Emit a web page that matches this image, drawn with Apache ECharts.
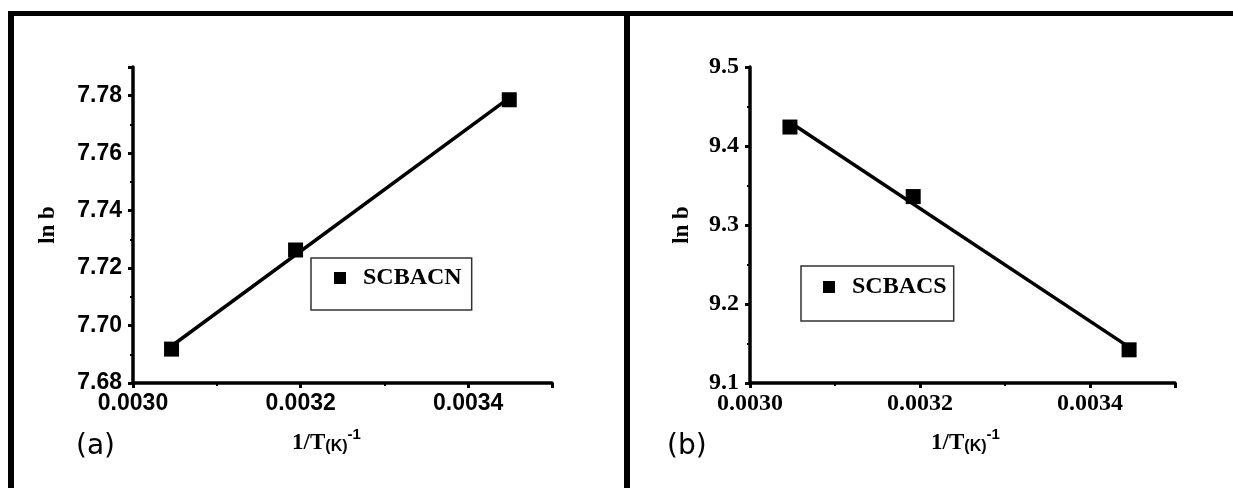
<!DOCTYPE html>
<html lang="en">
<head>
  <meta charset="UTF-8">
  <title>ln b vs 1/T</title>
  <style type="text/css">
    html, body {
      margin: 0;
      padding: 0;
      background: #fff;
    }
    #chart {
      width: 1233px;
      height: 488px;
    }
  </style>
</head>
<body>
  <div id="chart"></div>

  <script src="https://cdn.jsdelivr.net/npm/echarts@6/dist/echarts.min.js"></script>
  <script>
    // panel (a) SCBACN
    const invTA = [0.003046, 0.003194, 0.003449]
    const lnbA = [7.6918, 7.7263, 7.7786]
    // panel (b) SCBACS
    const invTB = [0.003047, 0.003192, 0.003446]
    const lnbB = [9.424, 9.336, 9.142]

    const nameA = 'SCBACN'
    const nameB = 'SCBACS'
    const panelLabels = ['(a)', '(b)']

    const xMin = 0.0030, xMax = 0.0035, xStep = 0.0002
    const yMinA = 7.68, yMaxA = 7.79, yStepA = 0.02
    const yMinB = 9.1, yMaxB = 9.5, yStepB = 0.1

    // least squares line through the points, drawn over the data range
    function fitLine (xs, ys) {
      const n = xs.length
      const mx = xs.reduce((a, b) => a + b, 0) / n
      const my = ys.reduce((a, b) => a + b, 0) / n
      let sxy = 0, sxx = 0
      xs.forEach((x, i) => {
        sxy += (x - mx) * (ys[i] - my)
        sxx += (x - mx) * (x - mx)
      })
      const k = sxy / sxx
      const x0 = Math.min(...xs), x1 = Math.max(...xs)
      return [[x0, my + k * (x0 - mx)], [x1, my + k * (x1 - mx)]]
    }

    const zip = (xs, ys) => xs.map((x, i) => [x, ys[i]])

    const serif = 'Liberation Serif, Times New Roman, serif'
    const sans = 'Liberation Sans, Arial, sans-serif'

    function xAxisFor (gridIndex, labelFont, nameOffset) {
      return {
        type: 'value',
        gridIndex,
        min: xMin,
        max: xMax,
        interval: xStep,
        splitLine: { show: false },
        axisLine: { lineStyle: { color: '#000', width: 3.5 } },
        axisTick: { length: 5, lineStyle: { color: '#000', width: 3 } },
        minorTick: { show: true, splitNumber: 2, length: 3, lineStyle: { color: '#000', width: 2 } },
        axisLabel: {
          showMaxLabel: false,
          margin: 9,
          color: '#000',
          fontFamily: labelFont,
          fontWeight: 'bold',
          fontSize: labelFont === sans ? 23 : 24,
          formatter: v => v.toFixed(4)
        },
        name: '{t|1/T}{k|(K)}{s|-1}',
        nameLocation: 'middle',
        nameGap: 44,
        nameTextStyle: {
          padding: nameOffset,
          rich: {
            t: { fontFamily: serif, fontWeight: 'bold', fontSize: 23, color: '#000', verticalAlign: 'bottom' },
            k: { fontFamily: sans, fontWeight: 'bold', fontSize: 16, color: '#000', verticalAlign: 'bottom' },
            s: { fontFamily: sans, fontWeight: 'bold', fontSize: 15, color: '#000', verticalAlign: 'bottom', padding: [0, 0, 13, 0] }
          }
        }
      }
    }

    function yAxisFor (gridIndex, min, max, step, digits, labelFont, gap) {
      return {
        type: 'value',
        gridIndex,
        min,
        max,
        interval: step,
        splitLine: { show: false },
        axisLine: { lineStyle: { color: '#000', width: 3.5 } },
        axisTick: { length: 5, lineStyle: { color: '#000', width: 3 } },
        minorTick: { show: true, splitNumber: 2, length: 3, lineStyle: { color: '#000', width: 2 } },
        axisLabel: {
          showMaxLabel: max === min + Math.round((max - min) / step) * step,
          margin: 11,
          color: '#000',
          fontFamily: labelFont,
          fontWeight: 'bold',
          fontSize: labelFont === sans ? 23 : 24,
          formatter: v => v.toFixed(digits)
        },
        name: 'ln b',
        nameLocation: 'middle',
        nameRotate: 90,
        nameGap: gap,
        nameTextStyle: { fontFamily: serif, fontWeight: 'bold', fontSize: 23, color: '#000' }
      }
    }

    function legendFor (name, left, top, padding) {
      return {
        data: [name],
        left,
        top,
        orient: 'vertical',
        selectedMode: false,
        icon: 'rect',
        itemWidth: 12,
        itemHeight: 12,
        itemStyle: { opacity: 1 },
        padding,
        borderColor: '#333',
        borderWidth: 1.5,
        borderRadius: 0,
        textStyle: { fontFamily: serif, fontWeight: 'bold', fontSize: 24, color: '#000', padding: [0, 0, 0, 12] }
      }
    }

    const myChart = echarts.init(document.getElementById('chart'))

    const option = {
      backgroundColor: '#fff',
      animation: false,
      grid: [
        { left: 133, top: 67, width: 419, height: 316 },
        { left: 750, top: 67, width: 425, height: 316 }
      ],
      xAxis: [
        xAxisFor(0, sans, [0, 32, 0, 0]),
        xAxisFor(1, serif, [0, 0, 0, 6])
      ],
      yAxis: [
        yAxisFor(0, yMinA, yMaxA, yStepA, 2, sans, 73),
        yAxisFor(1, yMinB, yMaxB, yStepB, 1, serif, 56)
      ],
      legend: [
        legendFor(nameA, 311, 258, [8, 10, 20, 23]),
        legendFor(nameB, 801, 266, [9, 7, 22, 22])
      ],
      graphic: [
        // frame around the two panels
        { type: 'rect', shape: { x: 8, y: 11, width: 1225, height: 5 }, style: { fill: '#000' } },
        { type: 'rect', shape: { x: 8, y: 11, width: 6, height: 477 }, style: { fill: '#000' } },
        { type: 'rect', shape: { x: 624, y: 11, width: 6, height: 477 }, style: { fill: '#000' } },
        { type: 'text', left: 76, top: 433, style: { text: panelLabels[0], fontFamily: 'DejaVu Sans', fontSize: 28, fill: '#000' } },
        { type: 'text', left: 667, top: 433, style: { text: panelLabels[1], fontFamily: 'DejaVu Sans', fontSize: 28, fill: '#000' } }
      ],
      series: [
        {
          name: 'fitA',
          type: 'line',
          xAxisIndex: 0,
          yAxisIndex: 0,
          data: fitLine(invTA, lnbA),
          showSymbol: false,
          lineStyle: { color: '#000', width: 3.5 }
        },
        {
          name: nameA,
          type: 'scatter',
          xAxisIndex: 0,
          yAxisIndex: 0,
          data: zip(invTA, lnbA),
          symbol: 'rect',
          symbolSize: 15,
          itemStyle: { color: '#000', opacity: 1 }
        },
        {
          name: 'fitB',
          type: 'line',
          xAxisIndex: 1,
          yAxisIndex: 1,
          data: fitLine(invTB, lnbB),
          showSymbol: false,
          lineStyle: { color: '#000', width: 3.5 }
        },
        {
          name: nameB,
          type: 'scatter',
          xAxisIndex: 1,
          yAxisIndex: 1,
          data: zip(invTB, lnbB),
          symbol: 'rect',
          symbolSize: 15,
          itemStyle: { color: '#000', opacity: 1 }
        }
      ]
    }

    myChart.setOption(option)
  </script>
</body>
</html>
